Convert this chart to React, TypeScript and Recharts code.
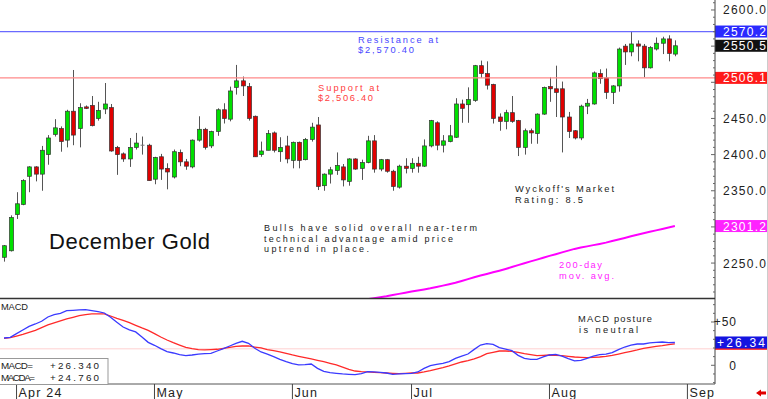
import React from 'react';
import { ComposedChart, Bar, Line, XAxis, YAxis, ReferenceLine } from 'recharts';

// December gold, daily candles from late March to end of August (index = trading day)
const opens = [2258, 2267, 2317, 2331, 2370, 2383, 2373, 2400, 2428, 2436,
  2420, 2460, 2436, 2466, 2468, 2450, 2463, 2465, 2410, 2401,
  2394, 2410, 2413, 2413, 2366, 2397, 2381, 2369, 2403, 2390,
  2383, 2420, 2435, 2412, 2432, 2462, 2449, 2493, 2502, 2494,
  2453, 2400, 2406, 2430, 2404, 2412, 2392, 2417, 2393, 2421,
  2441, 2357, 2373, 2378, 2383, 2363, 2394, 2381, 2389, 2419,
  2380, 2393, 2377, 2355, 2384, 2381, 2388, 2384, 2412, 2444,
  2413, 2418, 2424, 2470, 2469, 2475, 2523, 2512, 2497, 2452,
  2446, 2458, 2447, 2410, 2433, 2429, 2456, 2494, 2491, 2491,
  2452, 2433, 2423, 2467, 2470, 2512, 2506, 2486, 2495, 2550,
  2542, 2553, 2550, 2520, 2546, 2554, 2560, 2539];
const highs = [2275, 2316, 2348, 2366, 2384, 2384, 2412, 2427, 2449, 2439,
  2462, 2517, 2471, 2468, 2481, 2473, 2499, 2470, 2412, 2403,
  2423, 2430, 2425, 2415, 2397, 2401, 2388, 2407, 2407, 2394,
  2421, 2453, 2437, 2433, 2464, 2471, 2494, 2524, 2508, 2499,
  2454, 2418, 2434, 2432, 2424, 2426, 2418, 2418, 2423, 2444,
  2452, 2374, 2383, 2403, 2387, 2395, 2395, 2393, 2426, 2427,
  2394, 2394, 2379, 2386, 2395, 2395, 2397, 2421, 2448, 2446,
  2427, 2441, 2478, 2476, 2493, 2524, 2530, 2529, 2498, 2457,
  2462, 2481, 2448, 2436, 2436, 2457, 2494, 2507, 2523, 2501,
  2459, 2434, 2469, 2477, 2515, 2518, 2519, 2496, 2548, 2553,
  2570, 2558, 2553, 2550, 2562, 2563, 2565, 2558];
const lows = [2252, 2266, 2311, 2330, 2348, 2363, 2350, 2386, 2425, 2404,
  2410, 2413, 2410, 2463, 2439, 2447, 2456, 2404, 2372, 2390,
  2383, 2407, 2400, 2364, 2359, 2365, 2352, 2367, 2384, 2379,
  2381, 2418, 2407, 2409, 2426, 2443, 2446, 2483, 2481, 2447,
  2397, 2397, 2406, 2403, 2390, 2388, 2381, 2381, 2392, 2418,
  2351, 2350, 2360, 2372, 2356, 2357, 2379, 2365, 2388, 2375,
  2377, 2375, 2350, 2353, 2374, 2375, 2375, 2383, 2410, 2406,
  2403, 2417, 2423, 2444, 2444, 2473, 2506, 2490, 2443, 2433,
  2435, 2444, 2398, 2400, 2415, 2415, 2455, 2473, 2452, 2403,
  2423, 2421, 2420, 2456, 2469, 2498, 2477, 2470, 2487, 2524,
  2536, 2529, 2507, 2519, 2544, 2539, 2529, 2536];
const closes = [2274, 2313, 2332, 2364, 2383, 2373, 2406, 2423, 2437, 2418,
  2460, 2427, 2465, 2465, 2440, 2461, 2470, 2405, 2400, 2394,
  2410, 2416, 2413, 2364, 2396, 2380, 2376, 2404, 2390, 2384,
  2420, 2435, 2410, 2432, 2462, 2450, 2488, 2502, 2495, 2450,
  2397, 2405, 2429, 2406, 2410, 2394, 2417, 2392, 2421, 2438,
  2356, 2373, 2379, 2385, 2365, 2394, 2380, 2389, 2419, 2380,
  2393, 2377, 2356, 2384, 2381, 2388, 2384, 2412, 2447, 2413,
  2419, 2426, 2470, 2464, 2476, 2523, 2512, 2496, 2450, 2446,
  2458, 2446, 2410, 2433, 2430, 2456, 2493, 2491, 2486, 2452,
  2432, 2423, 2467, 2471, 2513, 2505, 2486, 2495, 2546, 2542,
  2553, 2550, 2520, 2548, 2554, 2560, 2540, 2550.5];

// 200-day moving average, visible from day 56 on
const maStart = 56;
const maValues = [2197.5, 2198.8, 2200.1, 2201.4, 2202.8, 2204.2, 2205.9, 2207.4, 2209, 2210.6,
  2212.1, 2213.6, 2215.1, 2216.9, 2218.8, 2220.7, 2222.8, 2225.3, 2227.8, 2230.3,
  2232.7, 2235, 2237.2, 2239.5, 2241.9, 2244.5, 2247.2, 2249.8, 2252.3, 2254.8,
  2257.4, 2259.9, 2262.3, 2264.8, 2267.2, 2269.6, 2271.4, 2273.1, 2274.8, 2276.5,
  2278.3, 2280.4, 2282.6, 2284.8, 2287, 2289.1, 2291.2, 2293.2, 2295.2, 2297.2,
  2299.2, 2301.2];

const macdValues = [31.5, 32.3, 36.5, 40.8, 45.0, 47.7, 50.8, 55.8, 58.5, 60.0,
  63.1, 63.5, 63.9, 64.3, 63.1, 62.0, 60.4, 55.4, 49.6, 44.2,
  40.8, 38.5, 32.7, 26.5, 23.1, 19.2, 15.7, 14.2, 12.3, 11.1,
  11.9, 13.0, 13.4, 13.8, 16.5, 19.2, 22.3, 25.4, 27.7, 25.4,
  19.6, 15.4, 13.0, 10.0, 6.9, 4.2, 1.9, 0.4, 0.7, 1.5,
  -3.5, -7.0, -8.5, -9.3, -10.0, -10.4, -10.8, -9.7, -7.4, -7.7,
  -8.1, -8.9, -10.4, -10.0, -9.7, -9.3, -7.7, -3.5, -0.4, 1.1,
  2.3, 4.2, 8.0, 10.7, 13.0, 18.4, 23.4, 25.0, 24.2, 20.4,
  18.8, 16.9, 11.5, 8.0, 6.9, 6.9, 9.6, 11.9, 12.7, 10.7,
  7.7, 5.0, 5.7, 8.0, 10.7, 12.3, 13.0, 14.6, 18.1, 21.1,
  23.4, 24.6, 24.6, 25.8, 26.5, 26.9, 26.1, 26.34];
const signalValues = [31.2, 31.9, 33.8, 35.8, 38.1, 40.4, 43.5, 46.6, 48.9, 51.2,
  53.5, 55.4, 57.3, 58.5, 59.3, 59.3, 59.3, 56.9, 54.2, 51.9,
  49.2, 46.2, 43.1, 40.4, 36.5, 32.7, 29.2, 26.1, 23.4, 20.8,
  19.2, 18.1, 17.7, 18.1, 18.5, 19.6, 20.8, 21.9, 22.3, 22.3,
  21.1, 20.0, 18.1, 16.9, 15.4, 13.8, 11.9, 10.4, 8.8, 7.3,
  5.7, 4.2, 2.3, 0.4, -2.0, -4.7, -6.6, -7.4, -7.7, -8.1,
  -8.5, -8.9, -9.3, -9.7, -9.3, -8.9, -8.9, -7.7, -6.2, -4.3,
  -2.7, -0.8, 1.5, 3.8, 5.4, 7.3, 10.0, 13.4, 15.0, 16.5,
  16.5, 16.1, 15.0, 13.4, 12.3, 11.1, 11.5, 11.9, 11.5, 11.1,
  10.4, 9.6, 9.2, 8.8, 9.2, 9.6, 10.4, 11.5, 13.0, 14.6,
  16.1, 17.7, 19.6, 20.8, 21.9, 22.7, 23.8, 24.76];

const monthTicks = [2, 24, 46, 65, 87, 109];
const monthLabels = ['Apr 24', 'May', 'Jun', 'Jul', 'Aug', 'Sep'];
const priceTicks: number[] = [];
for (let v = 2210; v <= 2610; v += 10) priceTicks.push(v);
const hiddenPriceLabels = [2300, 2500, 2550]; // covered by the value boxes
const macdTicks = [-20, -10, 0, 10, 20, 30, 40, 50, 60, 70];

const rows = closes.map((c, i) => ({
  i,
  open: opens[i],
  high: highs[i],
  low: lows[i],
  close: c,
  range: [lows[i], highs[i]],
  ma: i >= maStart ? maValues[i - maStart] : null,
  macd: macdValues[i],
  signal: signalValues[i],
}));

const FONT = '"Liberation Sans", Arial, sans-serif';
const X_DOMAIN = [-0.638, 113.4];

function Candle(props: any) {
  const { x, y, width, height, payload } = props;
  if (x == null || y == null) return null;
  const top = Math.min(y, y + height);
  const h = Math.abs(height);
  const cx = Math.round(x + width / 2) + 0.5;
  const span = payload.high - payload.low || 1;
  const py = (v: number) => top + ((payload.high - v) / span) * h;
  const up = payload.close >= payload.open;
  const bTop = py(Math.max(payload.open, payload.close));
  const bBot = py(Math.min(payload.open, payload.close));
  return (
    <g>
      <line x1={cx} x2={cx} y1={top} y2={top + h} stroke="#555" strokeWidth={1} />
      {payload.open === payload.close ? (
        <line x1={cx - 2} x2={cx + 2} y1={bTop} y2={bTop} stroke="#777" />
      ) : (
        <rect x={cx - 2} y={bTop} width={4} height={Math.max(bBot - bTop, 1.5)}
          fill={up ? '#00e000' : '#e00000'} stroke="#333" strokeWidth={0.7} />
      )}
    </g>
  );
}

function PriceTick(props: any) {
  const { x, y, payload } = props;
  const v = payload.value;
  const major = v % 50 === 0;
  return (
    <g>
      <line x1={x - (major ? 4 : 2)} x2={x} y1={y} y2={y} stroke="#666" />
      {major && !hiddenPriceLabels.includes(v) && (
        <text x={x + 8} y={y + 4.5} fontSize={12} fontFamily={FONT} fill="#222" textLength={43}>
          {v.toFixed(1)}
        </text>
      )}
    </g>
  );
}

function MacdTick(props: any) {
  const { x, y, payload } = props;
  const v = payload.value;
  const label = v === 50 ? '+50' : v === 0 ? '0' : null;
  return (
    <g>
      <line x1={x - (label ? 4 : 2)} x2={x} y1={y} y2={y} stroke="#666" />
      {label && (
        <text x={x + 22} y={y + 4.5} fontSize={12} fontFamily={FONT} fill="#222" textAnchor="end" letterSpacing={1}>
          {label}
        </text>
      )}
    </g>
  );
}

function MonthTick(props: any) {
  const { x, y, payload } = props;
  const idx = monthTicks.indexOf(payload.value);
  return (
    <g>
      <line x1={x} x2={x} y1={y} y2={y + 15} stroke="#444" />
      <text x={x + 2} y={y + 12.5} fontSize={12.5} fontFamily={FONT} fill="#222" letterSpacing={1.2}>
        {monthLabels[idx]}
      </text>
    </g>
  );
}

function AxisBox(props: any) {
  const { viewBox, text, fill, len = 43, dx = 8 } = props;
  if (!viewBox) return null;
  const x = viewBox.x + viewBox.width;
  const y = viewBox.y;
  return (
    <g>
      <rect x={x} y={y - 6} width={52} height={12} fill={fill} />
      <text x={x + dx} y={y + 4.5} fontSize={12} fontFamily={FONT} fill="#fff" textLength={len}>
        {text}
      </text>
    </g>
  );
}

function Txt({ x, y, w, children, color = '#222', size = 9.3 }: any) {
  return (
    <text x={x} y={y} fontSize={size} fontFamily={FONT} fill={color} textLength={w} lengthAdjust="spacing">
      {children}
    </text>
  );
}

export default function App() {
  return (
    <div style={{ position: 'relative', width: 768, height: 399, background: '#fff', overflow: 'hidden' }}>
      <style>{'body{margin:0}'}</style>
      <div style={{ position: 'absolute', left: 0, top: 0 }}>
        <ComposedChart width={768} height={298} data={rows} margin={{ top: 0, right: 0, bottom: 0, left: 0 }}>
          <XAxis dataKey="i" type="number" domain={X_DOMAIN} hide allowDataOverflow />
          <YAxis orientation="right" width={53} domain={[2201.7, 2613.8]} allowDataOverflow
            ticks={priceTicks} interval={0} tick={<PriceTick />} tickLine={false} tickSize={0} tickMargin={0}
            axisLine={{ stroke: '#444' }} />
          <ReferenceLine y={2570.2} stroke="#6a6aff" strokeWidth={1.2}
            label={<AxisBox text="2570.2" fill="#2a2aff" />} />
          <ReferenceLine y={2506.1} stroke="#ff8a8a" strokeWidth={1.2}
            label={<AxisBox text="2506.1" fill="#ff1a1a" />} />
          <ReferenceLine y={2550.5} stroke="none"
            label={<AxisBox text="2550.5" fill="#111" />} />
          <ReferenceLine y={2301.2} stroke="none"
            label={<AxisBox text="2301.2" fill="#ff22ff" />} />
          <Bar dataKey="range" barSize={5} isAnimationActive={false} shape={(p: any) => <Candle {...p} />} />
          <Line dataKey="ma" stroke="#ff00ff" strokeWidth={2} dot={false} isAnimationActive={false} connectNulls={false} />
        </ComposedChart>
      </div>
      <div style={{ position: 'absolute', left: 0, top: 298 }}>
        <ComposedChart width={768} height={101} data={rows} margin={{ top: 0, right: 0, bottom: 0, left: 0 }}>
          <XAxis dataKey="i" type="number" domain={X_DOMAIN} allowDataOverflow height={15}
            ticks={monthTicks} interval={0} tick={<MonthTick />} tickLine={false} tickSize={0} tickMargin={0}
            axisLine={{ stroke: '#555' }} />
          <YAxis orientation="right" width={53} domain={[-21.6, 77.7]} allowDataOverflow
            ticks={macdTicks} interval={0} tick={<MacdTick />} tickLine={false} tickSize={0} tickMargin={0}
            axisLine={{ stroke: '#444' }} />
          <ReferenceLine y={19} stroke="#ffd0d0" strokeWidth={1}
            label={(p: any) => p.viewBox ? <rect x={p.viewBox.x + p.viewBox.width} y={p.viewBox.y - 1} width={52} height={2} fill="#ff2020" /> : null} />
          <ReferenceLine y={26.34} stroke="none"
            label={<AxisBox text="+26.34" fill="#1414e0" len={48} dx={2} />} />
          <Line dataKey="signal" stroke="#ff2a2a" strokeWidth={1.3} dot={false} isAnimationActive={false} />
          <Line dataKey="macd" stroke="#3a3aff" strokeWidth={1.3} dot={false} isAnimationActive={false} />
        </ComposedChart>
      </div>
      <svg width={768} height={399} style={{ position: 'absolute', left: 0, top: 0, pointerEvents: 'none' }}>
        <line x1={0} x2={715} y1={298.5} y2={298.5} stroke="#333" strokeWidth={1.5} />
        <line x1={767.5} x2={767.5} y1={0} y2={399} stroke="#ccc" />
        <Txt x={358} y={42.7} w={80} color="#4848ff">Resistance at</Txt>
        <Txt x={358} y={53.4} w={56} color="#4848ff">$2,570.40</Txt>
        <Txt x={318} y={90.7} w={61} color="#ff4040">Support at</Txt>
        <Txt x={318} y={101.3} w={55} color="#ff4040">$2,506.40</Txt>
        <Txt x={49} y={248.5} w={161} size={22} color="#111">December Gold</Txt>
        <Txt x={264} y={231.4} w={213} size={9}>Bulls have solid overall near-term</Txt>
        <Txt x={264} y={241.9} w={189} size={9}>technical advantage amid price</Txt>
        <Txt x={264} y={252.3} w={105} size={9}>uptrend in place.</Txt>
        <Txt x={515} y={191.7} w={99}>Wyckoff's Market</Txt>
        <Txt x={515} y={202.6} w={68}>Rating: 8.5</Txt>
        <Txt x={559} y={268.4} w={43} color="#ff22ff">200-day</Txt>
        <Txt x={559} y={279.4} w={55} color="#ff22ff">mov. avg.</Txt>
        <Txt x={578} y={322.3} w={74}>MACD posture</Txt>
        <Txt x={579} y={333} w={59}>is neutral</Txt>
        <Txt x={1} y={310} w={27}>MACD</Txt>
        <rect x={-1} y={358.5} width={109} height={26} fill="#fff" stroke="#999" />
        <Txt x={1} y={369.4} w={32} size={9.8}>MACD=</Txt>
        <Txt x={50} y={369.4} w={49} size={9.8}>+26.340</Txt>
        <Txt x={1} y={380.8} w={34} size={9.8}>MACDA=</Txt>
        <Txt x={50} y={380.8} w={49} size={9.8}>+24.760</Txt>
        <polygon points="756,393 761,389.5 761,391.5 766,391.5 766,394.5 761,394.5 761,396.5" fill="#e00000" />
      </svg>
    </div>
  );
}
